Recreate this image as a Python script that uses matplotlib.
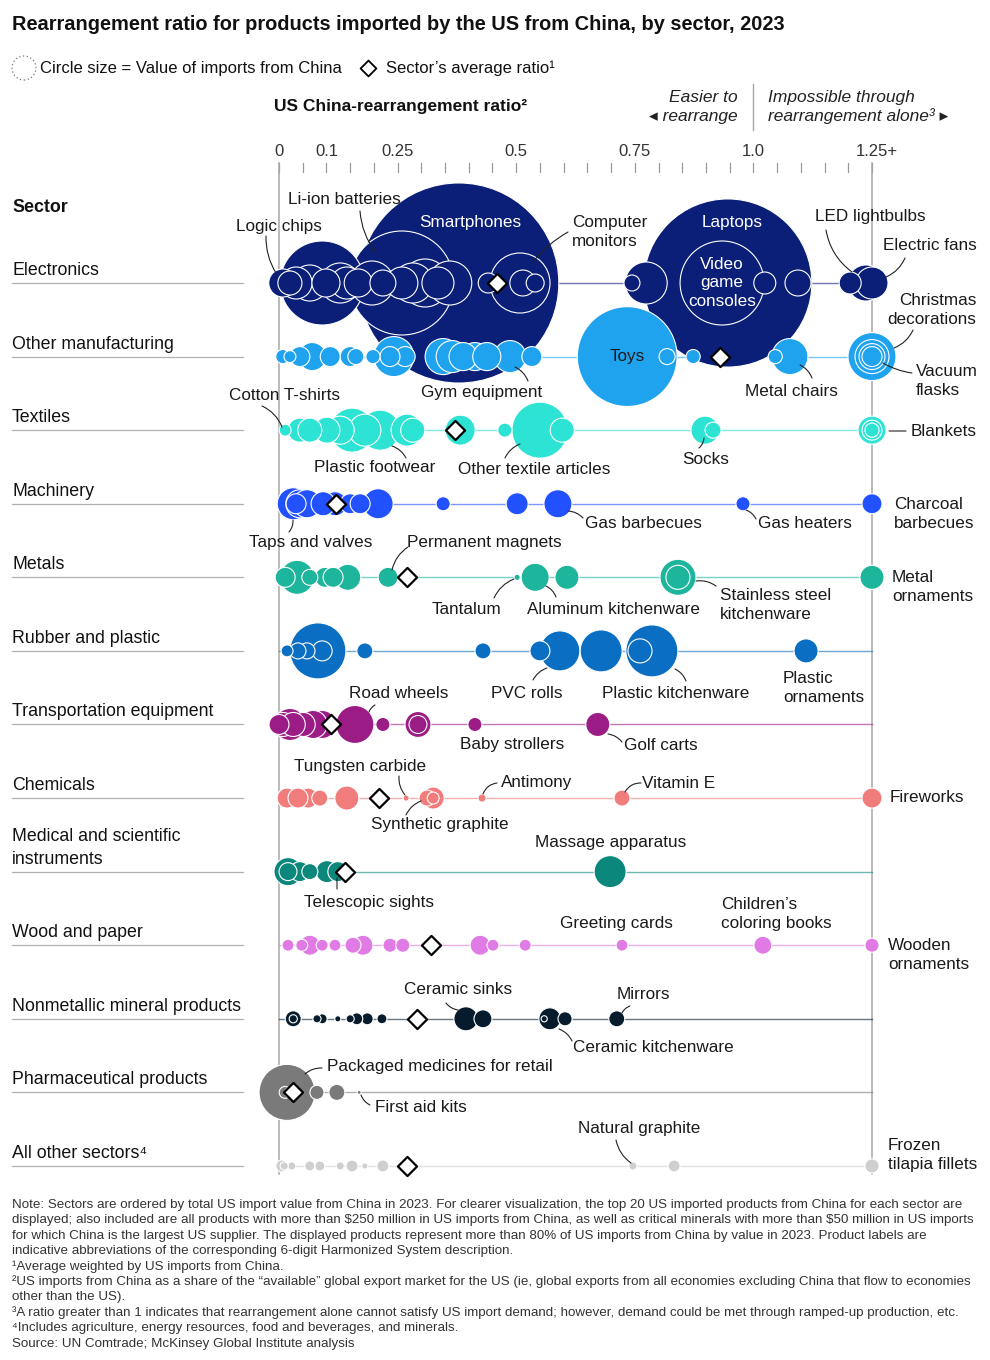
import numpy as np
import matplotlib
matplotlib.use("Agg")
import matplotlib.pyplot as plt

plt.rcParams["font.family"] = ["Liberation Sans", "DejaVu Sans"]
plt.rcParams["text.parse_math"] = False

# canvas geometry (pixels)
W, H = 990, 1360
X0, XS = 279, 474.4      # px of ratio 0, px per unit of ratio
Y0, YS = 283, 73.58      # px of first sector row, px between rows
K = 15.4                 # bubble radius in px per sqrt($ bn)

# ---- data: ratio (capped at 1.25) and US imports from China ($ bn) ----
SECTORS = ["Electronics", "Other manufacturing", "Textiles", "Machinery", "Metals",
           "Rubber and plastic", "Transportation equipment", "Chemicals",
           "Medical and scientific\ninstruments", "Wood and paper",
           "Nonmetallic mineral products", "Pharmaceutical products", "All other sectors⁴"]
COLORS = ["#0b1f78", "#20a3ee", "#2de3d3", "#2251ff", "#1db59c", "#0a6fc2", "#9c1c86",
          "#f07c7b", "#0c877b", "#e07ae4", "#061c2c", "#7a7a7a", "#cfcfcf"]
AVG_RATIO = [0.46, 0.93, 0.37, 0.12, 0.27, None, 0.11, 0.21, 0.14, 0.32, 0.29, 0.03, 0.27]

elec_ratio = [0.008, 0.091, 0.023, 0.036, 0.065, 0.099, 0.129, 0.143, 0.167, 0.196, 0.219,
              0.259, 0.259, 0.282, 0.308, 0.335, 0.360, 0.379, 0.441, 0.508, 0.514, 0.540,
              0.744, 0.774, 0.946, 0.934, 1.024, 1.094, 1.204, 1.237, 1.25]
elec_value = [0.83, 7.44, 0.61, 1.08, 1.37, 0.83, 1.69, 1.08, 0.83, 2.04, 0.71,
              11.4, 1.08, 1.69, 2.43, 1.08, 2.04, 42.2, 0.42, 3.8, 0.71, 0.34,
              0.27, 1.86, 29.8, 7.44, 0.51, 0.71, 0.51, 1.37, 1.08]

oman_ratio = [0.008, 0.023, 0.044, 0.070, 0.108, 0.150, 0.162, 0.198, 0.242, 0.234, 0.266,
              0.346, 0.365, 0.388, 0.413, 0.438, 0.487, 0.533, 0.734, 0.818, 0.873,
              1.077, 1.046, 1.25, 1.25, 1.25, 1.25]
oman_value = [0.21, 0.15, 0.42, 0.83, 0.42, 0.42, 0.27, 0.21, 1.69, 0.42, 0.42,
              1.37, 1.08, 0.83, 0.83, 0.83, 1.08, 0.42, 10.5, 0.27, 0.21,
              1.37, 0.21, 2.43, 1.22, 0.71, 0.42]

text_ratio = [0.013, 0.044, 0.065, 0.101, 0.129, 0.154, 0.181, 0.213, 0.270, 0.282, 0.382,
              0.476, 0.550, 0.597, 0.898, 0.915, 1.25, 1.25, 1.25]
text_value = [0.15, 0.61, 0.61, 0.71, 0.83, 2.04, 1.08, 1.69, 1.08, 0.61, 0.95,
              0.21, 3.31, 0.61, 0.83, 0.27, 0.83, 0.42, 0.21]

mach_ratio = [0.030, 0.044, 0.059, 0.036, 0.093, 0.118, 0.150, 0.171, 0.209, 0.346, 0.502,
              0.588, 0.978, 1.25]
mach_value = [1.08, 0.83, 0.83, 0.42, 0.61, 0.61, 0.42, 0.42, 0.95, 0.21, 0.51,
              0.83, 0.21, 0.42]

metal_ratio = [0.013, 0.038, 0.065, 0.097, 0.114, 0.145, 0.230, 0.502, 0.540, 0.607,
               0.841, 0.841, 1.25]
metal_value = [0.42, 1.22, 0.27, 0.42, 0.42, 0.71, 0.42, 0.04, 0.83, 0.61,
               1.37, 0.61, 0.61]

rubb_ratio = [0.017, 0.040, 0.059, 0.082, 0.091, 0.181, 0.430, 0.550, 0.592, 0.679,
              0.786, 0.761, 1.111]
rubb_value = [0.15, 0.27, 0.27, 3.31, 0.42, 0.27, 0.27, 0.42, 1.69, 1.86,
              2.85, 0.61, 0.61]

trans_ratio = [0.0, 0.008, 0.030, 0.051, 0.072, 0.023, 0.091, 0.160, 0.219, 0.293, 0.293,
               0.413, 0.672]
trans_value = [0.42, 0.61, 0.61, 0.61, 0.83, 1.08, 0.83, 1.52, 0.21, 0.71, 0.34,
               0.21, 0.61]

chem_ratio = [0.017, 0.040, 0.061, 0.086, 0.143, 0.268, 0.312, 0.325, 0.325, 0.428,
              0.723, 1.25]
chem_value = [0.42, 0.42, 0.42, 0.27, 0.61, 0.04, 0.27, 0.51, 0.15, 0.07,
              0.27, 0.42]

med_ratio = [0.019, 0.019, 0.044, 0.065, 0.101, 0.124, 0.698]
med_value = [0.83, 0.34, 0.42, 0.27, 0.51, 0.42, 1.08]

wood_ratio = [0.019, 0.048, 0.065, 0.091, 0.118, 0.156, 0.177, 0.234, 0.261, 0.424, 0.451,
              0.519, 0.723, 1.020, 1.25]
wood_value = [0.15, 0.15, 0.42, 0.15, 0.15, 0.27, 0.42, 0.21, 0.21, 0.42, 0.15,
              0.15, 0.15, 0.34, 0.21]

nonm_ratio = [0.030, 0.030, 0.080, 0.091, 0.124, 0.150, 0.164, 0.186, 0.217, 0.394, 0.430,
              0.571, 0.559, 0.603, 0.712]
nonm_value = [0.27, 0.07, 0.07, 0.105, 0.04, 0.07, 0.15, 0.15, 0.105, 0.61, 0.34,
              0.51, 0.04, 0.21, 0.27]

pharm_ratio = [0.017, 0.013, 0.023, 0.080, 0.122, 0.169]
pharm_value = [3.31, 0.15, 0.105, 0.21, 0.27, 0.017]

other_ratio = [0.006, 0.011, 0.027, 0.065, 0.086, 0.129, 0.154, 0.181, 0.219, 0.746,
               0.833, 1.25]
other_value = [0.15, 0.07, 0.07, 0.105, 0.105, 0.07, 0.15, 0.04, 0.15, 0.07,
               0.15, 0.21]

RATIOS = [elec_ratio, oman_ratio, text_ratio, mach_ratio, metal_ratio, rubb_ratio,
          trans_ratio, chem_ratio, med_ratio, wood_ratio, nonm_ratio, pharm_ratio, other_ratio]
VALUES = [elec_value, oman_value, text_value, mach_value, metal_value, rubb_value,
          trans_value, chem_value, med_value, wood_value, nonm_value, pharm_value, other_value]

TICKS = [0, 0.1, 0.25, 0.5, 0.75, 1.0, 1.25]
TICK_LABELS = ["0", "0.1", "0.25", "0.5", "0.75", "1.0", "1.25+"]

# product labels: text, x px, y px, ha, colour, leader start, leader end, curvature
LABELS = [
    ("Logic chips", 279, 226, "center", None, (266, 236), (276, 273), 0.15),
    ("Li-ion batteries", 344, 200, "center", None, (360, 211), (376, 253), 0.15),
    ("Smartphones", 470, 223, "center", "white", None, None, 0),
    ("Computer\nmonitors", 572, 232, "left", None, (568, 232), (533, 262), 0.1),
    ("Laptops", 732, 222, "center", "white", None, None, 0),
    ("Video\ngame\nconsoles", 722, 283, "center", "white", None, None, 0),
    ("LED lightbulbs", 870, 217, "center", None, (826, 230), (852, 272), 0.2),
    ("Electric fans", 930, 246, "center", None, (905, 258), (886, 277), -0.2),
    ("Christmas\ndecorations", 976, 310, "right", None, (913, 330), (894, 348), -0.2),
    ("Vacuum\nflasks", 916, 381, "left", None, (912, 373), (883, 363), -0.1),
    ("Toys", 627, 357, "center", None, None, None, 0),
    ("Gym equipment", 482, 392, "center", None, (528, 381), (515, 367), 0.2),
    ("Metal chairs", 791, 391, "center", None, (812, 378), (800, 365), 0.2),
    ("Cotton T-shirts", 284, 395, "center", None, (262, 406), (282, 427), -0.2),
    ("Plastic footwear", 375, 468, "center", None, (406, 458), (392, 446), 0.2),
    ("Other textile articles", 534, 470, "center", None, (505, 458), (520, 444), -0.2),
    ("Socks", 706, 460, "center", None, (699, 448), (704, 438), 0.2),
    ("Blankets", 911, 431, "left", None, (889, 431), (906, 431), 0),
    ("Taps and valves", 311, 543, "center", None, (289, 532), (293, 520), 0.2),
    ("Gas barbecues", 643, 524, "center", None, (583, 518), (568, 511), 0.2),
    ("Gas heaters", 805, 524, "center", None, (756, 519), (746, 510), 0.2),
    ("Charcoal\nbarbecues", 894, 514, "left", None, None, None, 0),
    ("Permanent magnets", 484, 543, "center", None, (408, 547), (392, 570), 0.2),
    ("Tantalum", 466, 609, "center", None, (494, 598), (514, 579), -0.2),
    ("Aluminum kitchenware", 613, 609, "center", None, (556, 597), (546, 586), 0.2),
    ("Stainless steel\nkitchenware", 720, 605, "left", None, (716, 586), (696, 581), 0.2),
    ("Metal\nornaments", 892, 587, "left", None, None, None, 0),
    ("PVC rolls", 527, 694, "center", None, (533, 680), (547, 668), -0.2),
    ("Plastic kitchenware", 676, 694, "center", None, (686, 681), (675, 669), 0.2),
    ("Plastic\nornaments", 783, 688, "left", None, None, None, 0),
    ("Road wheels", 399, 694, "center", None, (375, 705), (369, 712), 0.2),
    ("Baby strollers", 512, 745, "center", None, None, None, 0),
    ("Golf carts", 661, 745, "center", None, (622, 742), (608, 734), 0.2),
    ("Tungsten carbide", 360, 766, "center", None, (399, 776), (405, 795), 0.2),
    ("Synthetic graphite", 440, 824, "center", None, (406, 815), (421, 801), -0.2),
    ("Antimony", 537, 783, "center", None, (497, 783), (483, 794), 0.3),
    ("Vitamin E", 679, 783, "center", None, (641, 783), (625, 792), 0.3),
    ("Fireworks", 890, 798, "left", None, None, None, 0),
    ("Massage apparatus", 611, 842, "center", None, None, None, 0),
    ("Telescopic sights", 369, 903, "center", None, (337, 889), (337, 878), 0),
    ("Greeting cards", 616, 924, "center", None, None, None, 0),
    ("Children’s\ncoloring books", 721, 914, "left", None, None, None, 0),
    ("Wooden\nornaments", 888, 955, "left", None, None, None, 0),
    ("Ceramic sinks", 458, 989, "center", None, (446, 1003), (458, 1010), 0.2),
    ("Mirrors", 643, 995, "center", None, (630, 1006), (622, 1013), 0.2),
    ("Ceramic kitchenware", 653, 1048, "center", None, (572, 1041), (559, 1029), 0.2),
    ("Packaged medicines for retail", 327, 1067, "left", None, (322, 1068), (305, 1074), 0.2),
    ("First aid kits", 375, 1107, "left", None, (370, 1105), (361, 1095), -0.2),
    ("Natural graphite", 639, 1129, "center", None, (616, 1140), (631, 1163), 0.2),
    ("Frozen\ntilapia fillets", 888, 1155, "left", None, None, None, 0),
]

NOTES = [
    "Note: Sectors are ordered by total US import value from China in 2023. For clearer visualization, the top 20 US imported products from China for each sector are",
    "displayed; also included are all products with more than $250 million in US imports from China, as well as critical minerals with more than $50 million in US imports",
    "for which China is the largest US supplier. The displayed products represent more than 80% of US imports from China by value in 2023. Product labels are",
    "indicative abbreviations of the corresponding 6-digit Harmonized System description.",
    "¹Average weighted by US imports from China.",
    "²US imports from China as a share of the “available” global export market for the US (ie, global exports from all economies excluding China that flow to economies",
    "other than the US).",
    "³A ratio greater than 1 indicates that rearrangement alone cannot satisfy US import demand; however, demand could be met through ramped-up production, etc.",
    "⁴Includes agriculture, energy resources, food and beverages, and minerals.",
    "Source: UN Comtrade; McKinsey Global Institute analysis",
]


def P(xp, yp):
    """pixel position -> data coordinates (ratio, row)"""
    return (xp - X0) / XS, (yp - Y0) / YS


def size(v):
    r_px = K * np.sqrt(np.asarray(v, dtype=float))
    return (2 * r_px * 0.72) ** 2


def main():
    fig = plt.figure(figsize=(W / 100, H / 100), dpi=100)
    ax = fig.add_axes([0, 0, 1, 1])
    ax.set_xlim(-X0 / XS, (W - X0) / XS)
    ax.set_ylim((H - Y0) / YS, -Y0 / YS)
    ax.axis("off")

    n = len(SECTORS)
    # axis frame: ticks and vertical guide lines
    y_top, y_tick, y_bot = P(0, 163)[1], P(0, 172)[1], P(0, 1174)[1]
    for t in np.arange(0, 1.2501, 0.05):
        ax.plot([t, t], [y_top, y_tick], color="#9a9a9a", lw=0.9, zorder=0)
    for t in (0, 1.25):
        ax.plot([t, t], [y_top, y_bot], color="#a8a8a8", lw=1.1, zorder=0)
    for t, lab in zip(TICKS, TICK_LABELS):
        dx = 5 / XS if lab.endswith("+") else 0
        ax.text(t + dx, P(0, 151)[1], lab, ha="center", va="center", fontsize=12, color="#333333")

    # row lines, sector labels
    for i, (name, c) in enumerate(zip(SECTORS, COLORS)):
        ax.plot([0, 1.25], [i, i], color=c, lw=1.0, alpha=0.6, zorder=1)
        x1, _ = P(12, 0)
        x2, _ = P(243, 0)
        ax.plot([x1, x2], [i, i], color="#b0b0b0", lw=0.9)
        ax.text(x1, i - 4 / YS, name, ha="left", va="bottom", fontsize=12.8,
                color="#111111", linespacing=1.4)

    # bubbles: biggest first so smaller ones sit on top
    xs, ys, vs, cs = [], [], [], []
    for i in range(n):
        for r, v in zip(RATIOS[i], VALUES[i]):
            xs.append(min(r, 1.25))
            ys.append(i)
            vs.append(v)
            cs.append(COLORS[i])
    order = np.argsort(vs)[::-1]
    ax.scatter(np.array(xs)[order], np.array(ys)[order], s=size(np.array(vs)[order]),
               c=np.array(cs)[order], edgecolors="white", linewidths=0.8, zorder=3)

    # sector averages
    av_x = [a for a in AVG_RATIO if a is not None]
    av_y = [i for i, a in enumerate(AVG_RATIO) if a is not None]
    ax.scatter(av_x, av_y, marker="D", s=95, facecolor="white", edgecolor="black",
               linewidths=1.6, zorder=6)

    # product labels and leader lines
    for text, xp, yp, ha, col, p0, p1, rad in LABELS:
        ax.text(*P(xp, yp), text, ha=ha, va="center", fontsize=12.3,
                color=col or "#1a1a1a", zorder=7, linespacing=1.32)
        if p0 is not None:
            ax.annotate("", xy=P(*p1), xytext=P(*p0), zorder=7,
                        arrowprops=dict(arrowstyle="-", lw=0.8, color="#222222",
                                        connectionstyle=f"arc3,rad={rad}",
                                        shrinkA=0, shrinkB=0))

    # header block
    fig.text(12 / W, 1 - 25 / H, "Rearrangement ratio for products imported by the US from China, by sector, 2023",
             fontsize=14.4, fontweight="bold", va="center", color="#111111")
    ax.scatter(*P(24, 68), s=(1.44 * 12) ** 2, facecolor="none", edgecolor="#777777",
               linestyle=(0, (1, 2)), linewidths=0.9)
    ax.text(*P(40, 68), "Circle size = Value of imports from China", fontsize=12,
            va="center", color="#111111")
    ax.scatter(*P(368, 68), marker="D", s=65, facecolor="white", edgecolor="black", linewidths=1.3)
    ax.text(*P(386, 68), "Sector’s average ratio¹", fontsize=12, va="center", color="#111111")

    ax.text(*P(274, 106), "US China-rearrangement ratio²", fontsize=12.5, fontweight="bold",
            va="center", color="#111111")
    ax.text(*P(738, 107), "Easier to\n◂ rearrange", fontsize=12.5, style="italic",
            ha="right", va="center", multialignment="right", color="#222222", linespacing=1.3)
    ax.plot([1.0, 1.0], [P(0, 84)[1], P(0, 130)[1]], color="#a8a8a8", lw=1)
    ax.text(*P(768, 107), "Impossible through\nrearrangement alone³ ▸", fontsize=12.5,
            style="italic", ha="left", va="center", color="#222222", linespacing=1.3)
    ax.text(*P(12, 207), "Sector", fontsize=12.8, fontweight="bold", va="center", color="#111111")

    # footnotes
    for k, line in enumerate(NOTES):
        fig.text(12 / W, 1 - (1205 + k * 15.4) / H, line, fontsize=9.6,
                 va="center", color="#333333")

    fig.savefig("out.png", dpi=100)
    plt.close(fig)


if __name__ == "__main__":
    main()
